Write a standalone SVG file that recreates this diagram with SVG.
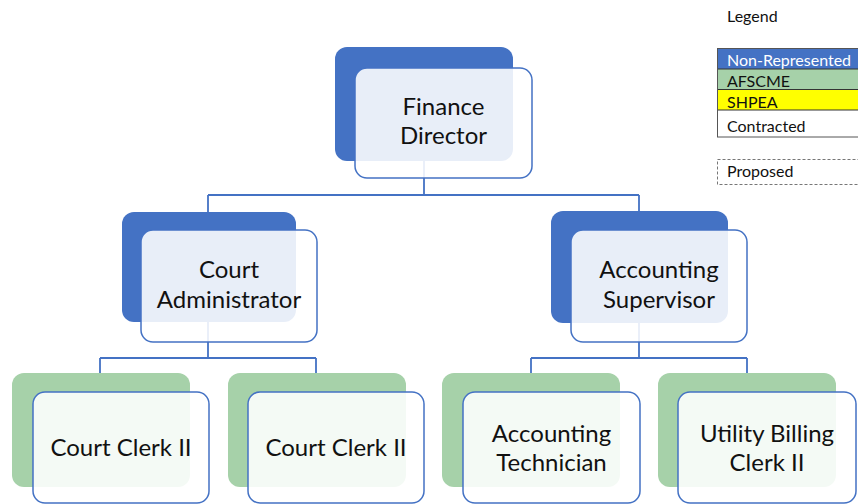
<svg xmlns="http://www.w3.org/2000/svg" width="858" height="504" viewBox="0 0 858 504">
  <style>
    .back-blue { fill: #4472C4; }
    .back-green { fill: #A6D1A9; }
    .front { fill: #FFFFFF; fill-opacity: 0.88; stroke: #4472C4; stroke-width: 1.5; }
    .conn { fill: none; stroke: #4472C4; stroke-width: 1.8; }
    .label { font-family: Lato, "Liberation Sans", sans-serif; font-size: 24px; fill: #111111; text-anchor: middle; }
    .leg { font-family: Lato, "Liberation Sans", sans-serif; font-size: 16px; fill: #111111; }
  </style>
  <rect width="858" height="504" fill="#FFFFFF"/>

  <g id="connectors">
    <path class="conn" d="M424,161 V195 M208,195 H639 M208,195 V212 M639,195 V212"/>
    <path class="conn" d="M208,322 V358 M100,358 H316 M100,358 V373 M316,358 V373"/>
    <path class="conn" d="M639,323 V358 M531,358 H747 M531,358 V373 M747,358 V373"/>
  </g>

  <g id="finance-director">
    <rect class="back-blue" x="335" y="47" width="178" height="114" rx="12"/>
    <rect class="front" x="355" y="68" width="177" height="110" rx="12"/>
    <text class="label" x="443.5" y="115">Finance</text>
    <text class="label" x="443.5" y="144">Director</text>
  </g>

  <g id="court-administrator">
    <rect class="back-blue" x="122" y="212" width="174" height="110" rx="12"/>
    <rect class="front" x="141" y="230" width="176" height="112" rx="12"/>
    <text class="label" x="229" y="278">Court</text>
    <text class="label" x="229" y="308">Administrator</text>
  </g>

  <g id="accounting-supervisor">
    <rect class="back-blue" x="551" y="211" width="177" height="112" rx="12"/>
    <rect class="front" x="571" y="230" width="176" height="112" rx="12"/>
    <text class="label" x="659" y="278">Accounting</text>
    <text class="label" x="659" y="308">Supervisor</text>
  </g>

  <g id="court-clerk-1">
    <rect class="back-green" x="12" y="373" width="178" height="114" rx="12"/>
    <rect class="front" x="33" y="392" width="176" height="111" rx="12"/>
    <text class="label" x="121" y="456">Court Clerk II</text>
  </g>

  <g id="court-clerk-2">
    <rect class="back-green" x="228" y="373" width="178" height="114" rx="12"/>
    <rect class="front" x="248" y="392" width="176" height="111" rx="12"/>
    <text class="label" x="336" y="456">Court Clerk II</text>
  </g>

  <g id="accounting-technician">
    <rect class="back-green" x="442" y="373" width="178" height="114" rx="12"/>
    <rect class="front" x="463" y="392" width="177" height="111" rx="12"/>
    <text class="label" x="551.5" y="442">Accounting</text>
    <text class="label" x="551.5" y="471">Technician</text>
  </g>

  <g id="utility-billing-clerk">
    <rect class="back-green" x="658" y="373" width="178" height="114" rx="12"/>
    <rect class="front" x="678" y="392" width="178" height="111" rx="12"/>
    <text class="label" x="767" y="442">Utility Billing</text>
    <text class="label" x="767" y="471">Clerk II</text>
  </g>

  <g id="legend">
    <text class="leg" x="727" y="22">Legend</text>
    <rect x="717.5" y="48.5" width="145" height="20.5" fill="#4472C4"/>
    <rect x="717.5" y="69" width="145" height="20.5" fill="#A6D1A9"/>
    <rect x="717.5" y="89.5" width="145" height="20.5" fill="#FFFF00"/>
    <rect x="717.5" y="110" width="145" height="27" fill="#FFFFFF"/>
    <path d="M717.5,69 H862 M717.5,89.5 H862 M717.5,110 H862" stroke="#333333" stroke-width="1" fill="none"/>
    <rect x="717.5" y="48.5" width="145" height="88.5" fill="none" stroke="#555555" stroke-width="1"/>
    <text class="leg" x="727" y="66" fill="#FFFFFF" style="fill:#FFFFFF">Non-Represented</text>
    <text class="leg" x="727" y="87">AFSCME</text>
    <text class="leg" x="727" y="108">SHPEA</text>
    <text class="leg" x="727" y="132">Contracted</text>
    <rect x="717.5" y="159.5" width="145" height="25" fill="none" stroke="#777777" stroke-width="1" stroke-dasharray="3,2"/>
    <text class="leg" x="727" y="177">Proposed</text>
  </g>
</svg>
